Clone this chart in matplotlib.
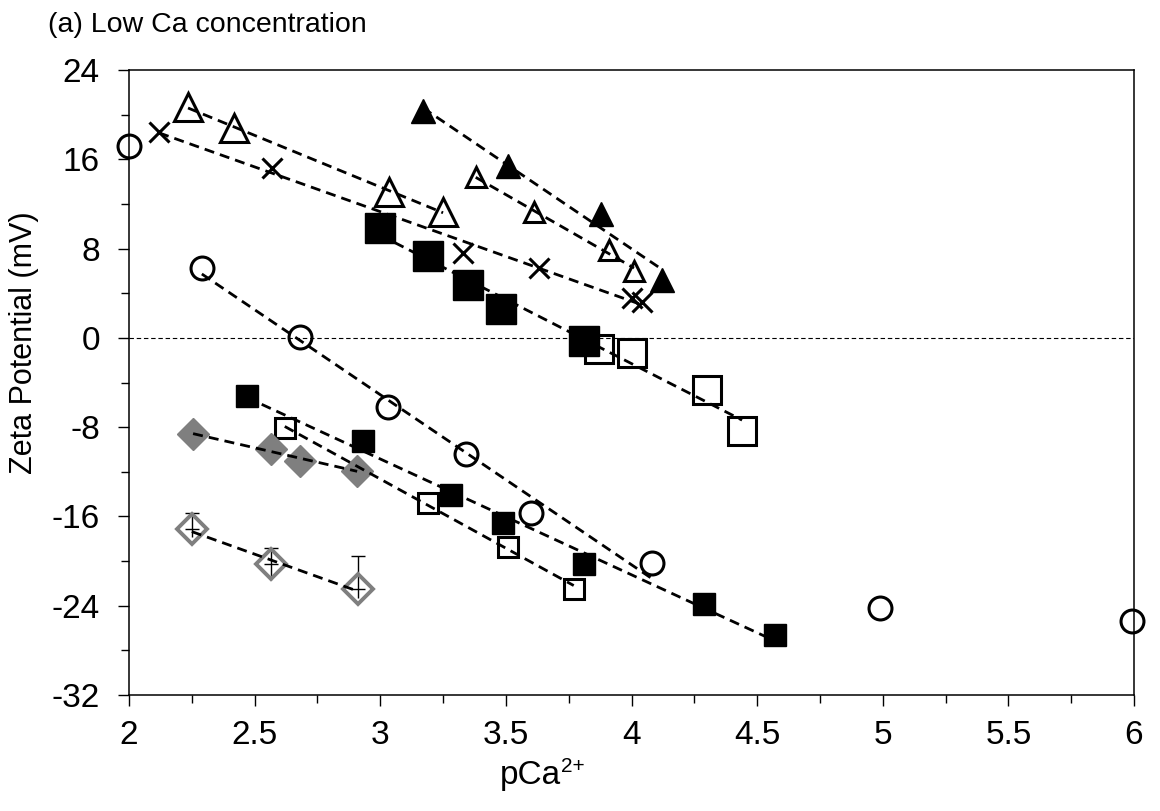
import numpy as np
import matplotlib
matplotlib.use("Agg")
from matplotlib import pyplot as plt
from matplotlib.ticker import MultipleLocator

plt.rcParams['font.family'] = ['Liberation Sans', 'DejaVu Sans']
plt.rcParams['axes.unicode_minus'] = False

# data (pCa2+, zeta potential in mV)
circ_x = [2.29, 2.68, 3.03, 3.34, 3.60, 4.08]
circ_y = [6.3, 0.1, -6.2, -10.4, -15.7, -20.2]
circ_free_x = [2.00, 4.99, 5.99]
circ_free_y = [17.2, -24.2, -25.4]
tri_big_x = [2.235, 2.418, 3.035, 3.25]
tri_big_y = [20.7, 18.8, 13.1, 11.3]
cross_x = [2.12, 2.57, 3.33, 3.63, 4.00, 4.04]
cross_y = [18.4, 15.2, 7.6, 6.3, 3.6, 3.2]
tri_fill_x = [3.17, 3.51, 3.88, 4.12]
tri_fill_y = [20.3, 15.4, 11.1, 5.2]
tri_small_x = [3.38, 3.61, 3.91, 4.01]
tri_small_y = [14.4, 11.3, 7.9, 6.0]
sq_big_fill_x = [3.00, 3.19, 3.35, 3.48, 3.81]
sq_big_fill_y = [9.8, 7.3, 4.7, 2.6, -0.3]
sq_big_open_x = [3.87, 4.00, 4.30, 4.44]
sq_big_open_y = [-1.0, -1.4, -4.7, -8.3]
sq_fill_x = [2.47, 2.93, 3.28, 3.49, 3.81, 4.29, 4.57]
sq_fill_y = [-5.2, -9.2, -14.1, -16.6, -20.3, -23.8, -26.6]
sq_open_x = [2.62, 3.19, 3.51, 3.77]
sq_open_y = [-8.1, -14.8, -18.7, -22.5]
dia_fill_x = [2.255, 2.564, 2.681, 2.908]
dia_fill_y = [-8.6, -10.0, -11.0, -11.9]
dia_open_x = [2.25, 2.565, 2.91]
dia_open_y = [-17.15, -20.3, -22.5]
dia_err_up = [1.45, 1.45, 3.0]
dia_err_dn = [0.65, 1.4, 0.8]

grey = '#7f7f7f'

fig = plt.figure(figsize=(11.6, 8.11), dpi=100)
ax = fig.add_axes([0.1112, 0.1430, 0.8664, 0.7707])

# error bars (upper with caps, lower plain)
ax.errorbar(dia_open_x, dia_open_y, yerr=[np.zeros(3), dia_err_up], fmt='none',
            ecolor='black', elinewidth=1, capsize=5, capthick=1, zorder=2)
ax.errorbar(dia_open_x, dia_open_y, yerr=[dia_err_dn, np.zeros(3)], fmt='none',
            ecolor='black', elinewidth=1, capsize=0, zorder=2)

mk = dict(linestyle='none', clip_on=False, zorder=3)
ax.plot(circ_x, circ_y, 'o', ms=16.5, mfc='none', mec='black', mew=2.2, **mk)
ax.plot(circ_free_x, circ_free_y, 'o', ms=16.5, mfc='none', mec='black', mew=2.2, **mk)
ax.plot(tri_big_x, tri_big_y, '^', ms=20, mfc='none', mec='black', mew=2.2, **mk)
ax.plot(cross_x, cross_y, 'x', ms=14, mec='black', mew=2.2, **mk)
ax.plot(tri_fill_x, tri_fill_y, '^', ms=17, mfc='black', mec='black', mew=1, **mk)
ax.plot(tri_small_x, tri_small_y, '^', ms=15, mfc='none', mec='black', mew=2.2, **mk)
ax.plot(sq_big_fill_x, sq_big_fill_y, 's', ms=22, mfc='black', mec='black', mew=1, **mk)
ax.plot(sq_big_open_x, sq_big_open_y, 's', ms=20, mfc='none', mec='black', mew=2.2, **mk)
ax.plot(sq_fill_x, sq_fill_y, 's', ms=15.5, mfc='black', mec='black', mew=1, **mk)
ax.plot(sq_open_x, sq_open_y, 's', ms=14.4, mfc='none', mec='black', mew=2.2, **mk)
ax.plot(dia_fill_x, dia_fill_y, 'D', ms=16, mfc=grey, mec=grey, mew=1, **mk)
ax.plot(dia_open_x, dia_open_y, 'D', ms=15, mfc='none', mec=grey, mew=2.8, **mk)

# linear trend lines (dashed, on top of markers)
trend_sets = [
    (circ_x, circ_y),
    (tri_big_x, tri_big_y),
    (cross_x, cross_y),
    (tri_fill_x, tri_fill_y),
    (tri_small_x, tri_small_y),
    (sq_big_fill_x + sq_big_open_x, sq_big_fill_y + sq_big_open_y),
    (sq_fill_x, sq_fill_y),
    (sq_open_x, sq_open_y),
    (dia_fill_x, dia_fill_y),
    (dia_open_x, dia_open_y),
]
for xs, ys in trend_sets:
    k, b = np.polyfit(xs, ys, 1)
    xx = np.array([min(xs), max(xs)])
    ax.plot(xx, k * xx + b, color='black', lw=2, dashes=(3.6, 2.2), zorder=4)

ax.axhline(0, color='black', lw=0.8, dashes=(4, 2.5), zorder=1)

ax.set_xlim(2, 6)
ax.set_ylim(-32, 24)
ax.xaxis.set_major_locator(MultipleLocator(0.5))
ax.xaxis.set_minor_locator(MultipleLocator(0.25))
ax.yaxis.set_major_locator(MultipleLocator(8))
ax.yaxis.set_minor_locator(MultipleLocator(4))
ax.xaxis.set_major_formatter(plt.FuncFormatter(lambda v, p: f'{v:g}'))
ax.tick_params(which='both', direction='out', width=1, labelsize=24, top=False, right=False)
ax.tick_params(axis='x', which='major', length=8, pad=10)
ax.tick_params(axis='x', which='minor', length=5.5)
ax.tick_params(axis='y', which='major', length=8, pad=13)
ax.tick_params(axis='y', which='minor', length=5.5)
for s in ax.spines.values():
    s.set_linewidth(1.1)

# x label with small raised "2+"
xl = fig.text(0.431, 0.044, 'pCa', fontsize=24, ha='left', va='center')
ax.annotate('2+', xy=(1.0, 0.78), xycoords=xl, fontsize=15, ha='left', va='center')
fig.text(0.021, 0.578, 'Zeta Potential (mV)', fontsize=22, rotation=90,
         ha='center', va='center')
fig.text(0.041, 0.969, '(a) Low Ca concentration', fontsize=20.5, ha='left', va='center')

fig.savefig('out.png', dpi=100)
